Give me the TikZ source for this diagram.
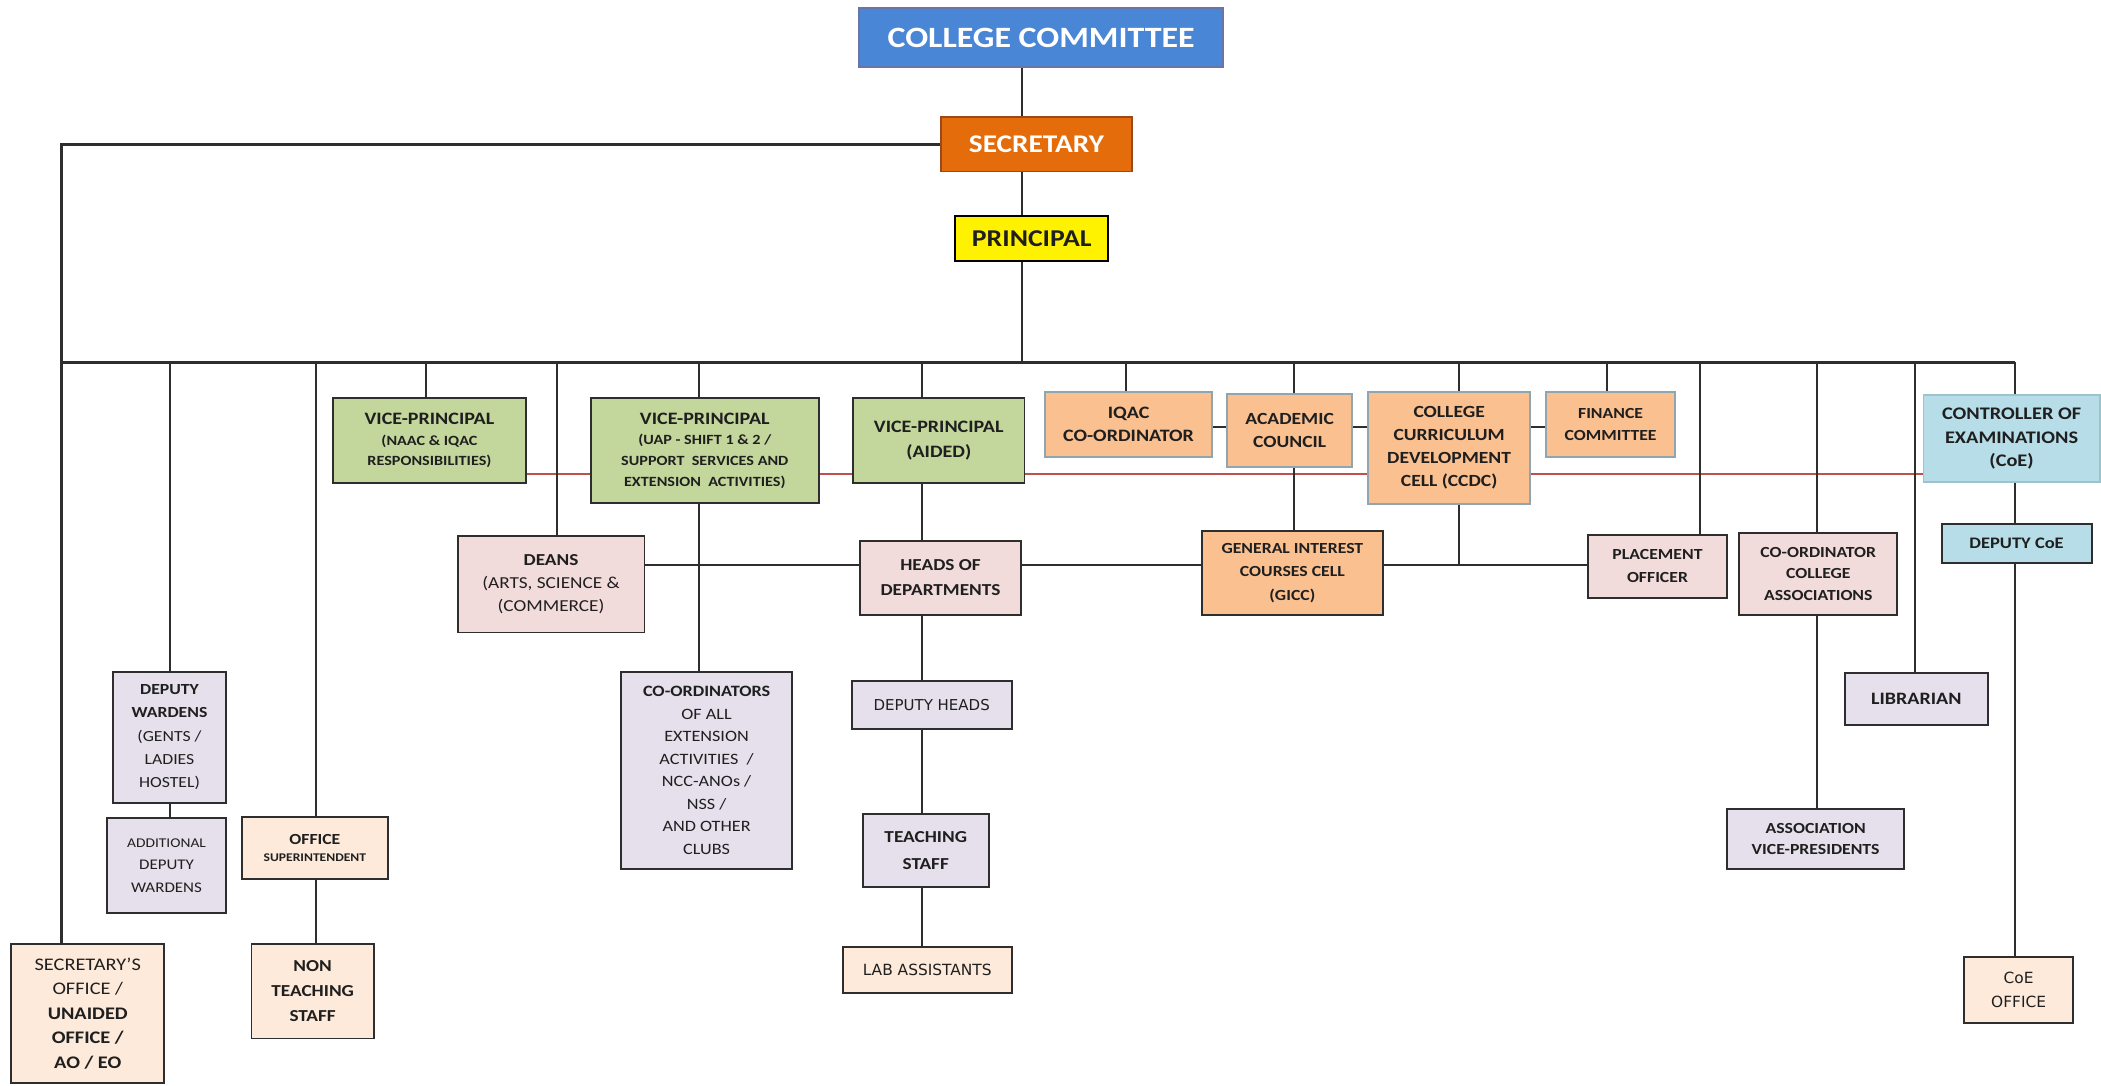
\documentclass[tikz,border=0pt]{standalone}
\usepackage{fontspec}
\setmainfont{Carlito}[FakeStretch=1.15]
\newfontfamily\tahfont{DejaVu Sans}
\usetikzlibrary{backgrounds}
\definecolor{ccF}{HTML}{4A86D6}
\definecolor{ccB}{HTML}{6A74A8}
\definecolor{secF}{HTML}{E46C0A}
\definecolor{secB}{HTML}{9A4A1A}
\definecolor{grnF}{HTML}{C3D69B}
\definecolor{orgF}{HTML}{FAC090}
\definecolor{orgB}{HTML}{8FA5B0}
\definecolor{bluF}{HTML}{B7DEE8}
\definecolor{bluB}{HTML}{9CC2CC}
\definecolor{pnkF}{HTML}{F2DCDB}
\definecolor{lavF}{HTML}{E5E0EC}
\definecolor{crmF}{HTML}{FDEADA}
\definecolor{bdr}{HTML}{2E2E2E}
\definecolor{txt}{HTML}{1F1F1F}
\definecolor{lin}{HTML}{2E2E2E}
\definecolor{redc}{HTML}{C0504D}
\newcommand\fsz[2]{\fontsize{#1}{#2}\selectfont}
\begin{document}
\begin{tikzpicture}[x=1pt,y=-1pt,
  box/.style={draw=bdr, line width=1.4pt, text=txt, align=center, inner sep=1pt},
  conn/.style={line width=1.5pt, draw=lin},
  busl/.style={line width=2.2pt, draw=lin},
  redl/.style={line width=1.5pt, draw=redc}]
\useasboundingbox (0,0) rectangle (1568,810);

% top
\node[box, fill=ccF, draw=ccB, text=white, minimum width=272, minimum height=44, font=\bfseries\fsz{22}{26}] (cc) at (777,28) {COLLEGE COMMITTEE};
\node[box, fill=secF, draw=secB, text=white, minimum width=143, minimum height=41, font=\bfseries\fsz{19}{22}] (sec) at (773.5,107.5) {SECRETARY};
\node[box, fill=yellow, draw=black, minimum width=114, minimum height=34, font=\bfseries\fsz{18}{20}] (prin) at (770,178) {PRINCIPAL};

% green
\node[box, fill=grnF, minimum width=144, minimum height=63.5, font=\bfseries\fsz{10.5}{15.5}] (vp1) at (320.5,328.75) {{\fsz{13}{15.5}VICE-PRINCIPAL}\\(NAAC \& IQAC\\RESPONSIBILITIES)};
\node[box, fill=grnF, minimum width=170, minimum height=78.5, font=\bfseries\fsz{10.5}{15.5}] (vp2) at (526,336.25) {{\fsz{13}{15.5}VICE-PRINCIPAL}\\(UAP - SHIFT 1 \& 2 /\\SUPPORT\ \ SERVICES AND\\EXTENSION\ \ ACTIVITIES)};
\node[box, fill=grnF, minimum width=128, minimum height=63.5, font=\bfseries\fsz{13}{18.5}] (vp3) at (700.6,328.75) {VICE-PRINCIPAL\\(AIDED)};

% orange row
\node[box, fill=orgF, draw=orgB, minimum width=124.5, minimum height=48.5, font=\bfseries\fsz{13}{17.7}] (iqac) at (842.25,316.75) {IQAC\\CO-ORDINATOR};
\node[box, fill=orgF, draw=orgB, minimum width=93, minimum height=54.5, font=\bfseries\fsz{12.7}{17.7}] (ac) at (962.5,321.25) {ACADEMIC\\COUNCIL};
\node[box, fill=orgF, draw=orgB, minimum width=121, minimum height=83.5, font=\bfseries\fsz{12.7}{17}] (ccdc) at (1081.5,334.25) {COLLEGE\\CURRICULUM\\DEVELOPMENT\\CELL (CCDC)};
\node[box, fill=orgF, draw=orgB, minimum width=96, minimum height=48.5, font=\bfseries\fsz{11.5}{17}] (fin) at (1202,316.75) {FINANCE\\COMMITTEE};
\node[box, fill=bluF, draw=bluB, minimum width=131.5, minimum height=65, font=\bfseries\fsz{13.2}{17.4}] (coe) at (1501.25,327.5) {CONTROLLER OF\\EXAMINATIONS\\(CoE)};

% second row
\node[box, fill=pnkF, minimum width=139.5, minimum height=72, font=\fsz{12.5}{17.5}] (deans) at (411.25,436) {{\bfseries DEANS}\\(ARTS, SCIENCE \&\\(COMMERCE)};
\node[box, fill=pnkF, minimum width=120, minimum height=55.3, font=\bfseries\fsz{12.5}{18.7}] (hod) at (701.9,431.35) {HEADS OF\\DEPARTMENTS};
\node[box, fill=orgF, minimum width=135, minimum height=63, font=\bfseries\fsz{11.5}{17.4}] (gicc) at (964.5,427.5) {GENERAL INTEREST\\COURSES CELL\\(GICC)};
\node[box, fill=pnkF, minimum width=104, minimum height=47, font=\bfseries\fsz{11.5}{17}] (place) at (1237,422.5) {PLACEMENT\\OFFICER};
\node[box, fill=pnkF, minimum width=118, minimum height=61.5, font=\bfseries\fsz{11.5}{16}] (ccoord) at (1357,428.25) {CO-ORDINATOR\\COLLEGE\\ASSOCIATIONS};
\node[box, fill=bluF, minimum width=112, minimum height=29, font=\bfseries\fsz{12}{14}] (dcoe) at (1505,405.5) {DEPUTY CoE};

% lower boxes
\node[box, fill=lavF, minimum width=84, minimum height=97.5, font=\fsz{11.5}{17.4}] (dw) at (126.5,550.25) {{\bfseries DEPUTY}\\{\bfseries WARDENS}\\(GENTS /\\LADIES\\HOSTEL)};
\node[box, fill=lavF, minimum width=88.6, minimum height=71, font=\fsz{11}{17}] (adw) at (124.3,646) {{\fsz{10}{17}ADDITIONAL}\\DEPUTY\\WARDENS};
\node[box, fill=crmF, minimum width=109, minimum height=46.5, font=\bfseries\fsz{8.8}{13.2}] (osup) at (235,632.75) {{\fsz{11.5}{13.2}OFFICE}\\SUPERINTENDENT};
\node[box, fill=crmF, minimum width=91.3, minimum height=70.5, font=\bfseries\fsz{12.5}{18.7}] (nts) at (233.35,739.75) {NON\\TEACHING\\STAFF};
\node[box, fill=crmF, minimum width=114.2, minimum height=103.5, font=\fsz{13.2}{18.3}] (soff) at (65.5,756.25) {SECRETARY’S\\OFFICE /\\{\bfseries UNAIDED}\\{\bfseries OFFICE /}\\{\bfseries AO / EO}};
\node[box, fill=lavF, minimum width=127.3, minimum height=147, font=\fsz{11.8}{16.8}] (coord) at (527.35,575) {{\bfseries CO-ORDINATORS}\\OF ALL\\EXTENSION\\ACTIVITIES\ \ /\\NCC-ANOs /\\NSS /\\AND OTHER\\CLUBS};
\node[box, fill=lavF, minimum width=119.4, minimum height=36, font=\tahfont\fsz{11.2}{14}] (dh) at (695.3,526) {DEPUTY HEADS};
\node[box, fill=lavF, minimum width=93.8, minimum height=54.5, font=\bfseries\fsz{12.5}{19.5}] (ts) at (690.9,634.75) {TEACHING\\STAFF};
\node[box, fill=crmF, minimum width=126, minimum height=34.5, font=\tahfont\fsz{11.5}{14}] (lab) at (692,723.75) {LAB ASSISTANTS};
\node[box, fill=lavF, minimum width=107, minimum height=39, font=\bfseries\fsz{13}{14}] (lib) at (1430.1,521.5) {LIBRARIAN};
\node[box, fill=lavF, minimum width=132, minimum height=44.6, font=\bfseries\fsz{11.5}{16}] (avp) at (1355,626) {ASSOCIATION\\VICE-PRESIDENTS};
\node[box, fill=crmF, minimum width=81.8, minimum height=49.7, font=\tahfont\fsz{11.5}{17.4}] (coeo) at (1506.5,738.85) {CoE\\OFFICE};

% coordinates
\coordinate (spine) at (763,270.5);
\coordinate (busL) at (45.7,270.5);
\coordinate (busR) at (1504,270.5);
\coordinate (secL) at (45.7,107.5);
\coordinate (hl) at (0,422);
\coordinate (rw) at (0,318.4);
\coordinate (rl) at (0,354);
\coordinate (xdw) at (127,270.5);
\coordinate (xos) at (236,270.5);
\coordinate (xvp1) at (318,270.5);
\coordinate (xdn) at (416,270.5);
\coordinate (xvp2) at (522,270.5);
\coordinate (xvp3) at (688,270.5);
\coordinate (xiq) at (840,270.5);
\coordinate (xac) at (966,270.5);
\coordinate (xcc) at (1089,270.5);
\coordinate (xfn) at (1199,270.5);
\coordinate (xpl) at (1269,270.5);
\coordinate (xca) at (1356,270.5);
\coordinate (xlb) at (1429,270.5);
\coordinate (xce) at (1504,270.5);

\begin{pgfonlayer}{background}
\fill[white] (0,0) rectangle (1568,810);
\draw[redl] (vp1.east |- rl) -- (coe.west |- rl);
\draw[conn] (cc.south -| spine) -- (sec.north -| spine);
\draw[conn] (sec.south -| spine) -- (prin.north -| spine);
\draw[conn] (prin.south -| spine) -- (spine);
\draw[busl] (busL) -- (busR);
\draw[busl] (sec.west) -- (secL) -- (soff.north -| secL);
% drops
\draw[conn] (xdw) -- (dw.north -| xdw);
\draw[conn] (dw.south -| xdw) -- (adw.north -| xdw);
\draw[conn] (xos) -- (osup.north -| xos);
\draw[conn] (osup.south -| xos) -- (nts.north -| xos);
\draw[conn] (xvp1) -- (vp1.north -| xvp1);
\draw[conn] (xdn) -- (deans.north -| xdn);
\draw[conn] (xvp2) -- (vp2.north -| xvp2);
\draw[conn] (vp2.south -| xvp2) -- (coord.north -| xvp2);
\draw[conn] (xvp3) -- (vp3.north -| xvp3);
\draw[conn] (vp3.south -| xvp3) -- (hod.north -| xvp3);
\draw[conn] (hod.south -| xvp3) -- (dh.north -| xvp3);
\draw[conn] (dh.south -| xvp3) -- (ts.north -| xvp3);
\draw[conn] (ts.south -| xvp3) -- (lab.north -| xvp3);
\draw[conn] (xiq) -- (iqac.north -| xiq);
\draw[conn] (xac) -- (ac.north -| xac);
\draw[conn] (ac.south -| xac) -- (gicc.north -| xac);
\draw[conn] (xcc) -- (ccdc.north -| xcc);
\draw[conn] (ccdc.south -| xcc) -- (hl -| xcc);
\draw[conn] (xfn) -- (fin.north -| xfn);
\draw[conn] (xpl) -- (place.north -| xpl);
\draw[conn] (xca) -- (ccoord.north -| xca);
\draw[conn] (ccoord.south -| xca) -- (avp.north -| xca);
\draw[conn] (xlb) -- (lib.north -| xlb);
\draw[conn] (xce) -- (coe.north -| xce);
\draw[conn] (coe.south -| xce) -- (dcoe.north -| xce);
\draw[conn] (dcoe.south -| xce) -- (coeo.north -| xce);
% horizontals
\draw[conn] (deans.east |- hl) -- (hod.west |- hl);
\draw[conn] (hod.east |- hl) -- (gicc.west |- hl);
\draw[conn] (gicc.east |- hl) -- (place.west |- hl);
\draw[conn] (iqac.east |- rw) -- (ac.west |- rw);
\draw[conn] (ac.east |- rw) -- (ccdc.west |- rw);
\draw[conn] (ccdc.east |- rw) -- (fin.west |- rw);
\end{pgfonlayer}
\end{tikzpicture}
\end{document}
